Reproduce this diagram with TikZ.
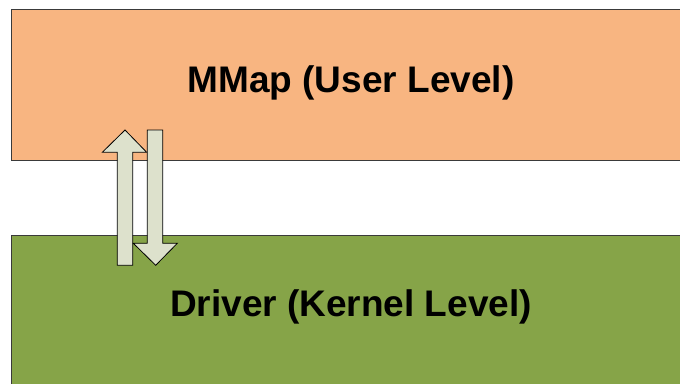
\documentclass[tikz,border=0pt]{standalone}
\usepackage{fontspec}
\setmainfont{Liberation Sans}
\definecolor{userfill}{HTML}{F8B581}
\definecolor{kernfill}{HTML}{86A448}
\definecolor{arrowfill}{HTML}{DDE1CC}
\definecolor{edge}{HTML}{3A3A3A}
\begin{document}
\begin{tikzpicture}[x=1pt,y=-1pt,
  layer/.style={draw=edge,line width=0.9pt},
  blockarrow/.style={draw=black,line width=0.8pt,fill=arrowfill,line join=miter},
  lbl/.style={font=\bfseries\fontsize{37}{40}\selectfont,text=black}]
\useasboundingbox (0,0) rectangle (680,383);
\fill[white] (0,0) rectangle (680,383);
\fill[userfill] (11.5,9) rectangle (690,160);
\draw[layer] (690,9) -- (11.5,9) -- (11.5,160) -- (690,160);
\fill[kernfill] (11.5,235) rectangle (690,393);
\draw[layer] (690,235) -- (11.5,235) -- (11.5,393);
\node[lbl] (user) at (351,83) {MMap (User Level)};
\node[lbl] (kern) at (351,307) {Driver (Kernel Level)};
% up arrow
\draw[blockarrow] (117.3,265.3) -- (117.3,152.3) -- (102.3,152.3) -- (125,130) -- (146.7,152.3) -- (132.7,152.3) -- (132.7,265.3) -- cycle;
% down arrow
\draw[blockarrow] (147.3,130) -- (162.7,130) -- (162.7,243.3) -- (177.3,243.3) -- (155.7,265.3) -- (133.3,243.3) -- (147.3,243.3) -- cycle;
\end{tikzpicture}
\end{document}
